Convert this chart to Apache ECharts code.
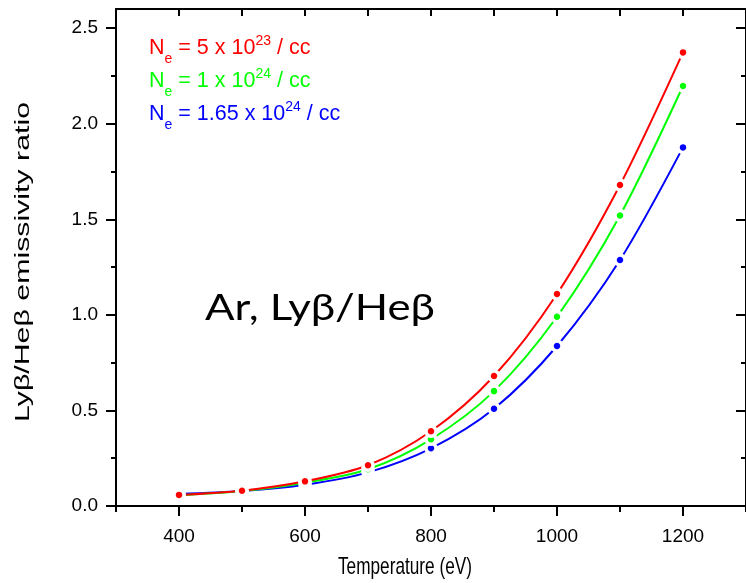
<!DOCTYPE html>
<html><head><meta charset="utf-8">
<script src="https://cdn.jsdelivr.net/npm/echarts@6/dist/echarts.min.js"></script>
<style>html,body{margin:0;padding:0;background:#fff}#c{width:746px;height:583px}</style>
</head><body><div id="c"></div>
<script>
const temperatures = [400, 500, 600, 700, 800, 900, 1000, 1100, 1200];
const ratioNe5e23 = [0.058, 0.080, 0.129, 0.213, 0.391, 0.680, 1.109, 1.679, 2.373];
const ratioNe1e24 = [0.056, 0.078, 0.122, 0.192, 0.349, 0.601, 0.990, 1.520, 2.197];
const ratioNe165e24 = [0.063, 0.078, 0.111, 0.176, 0.302, 0.509, 0.837, 1.287, 1.876];
const xMajorTicks = [400, 600, 800, 1000, 1200];
const xMinorTicks = [300, 500, 700, 900, 1100, 1300];
const xTopTicks = [300, 400, 500, 600, 700, 800, 900, 1000, 1100, 1200, 1300];
const yMajorTicks = [0, 0.5, 1.0, 1.5, 2.0, 2.5];
const yMinorTicks = [0.25, 0.75, 1.25, 1.75, 2.25];
const legendLines = [
  {text: '{n|N}{s|e}{n| = 5 x 10}{p|23}{n| / cc}', color: '#ff0000'},
  {text: '{n|N}{s|e}{n| = 1 x 10}{p|24}{n| / cc}', color: '#00ff00'},
  {text: '{n|N}{s|e}{n| = 1.65 x 10}{p|24}{n| / cc}', color: '#0000ff'}
];
const annotation = 'Ar, Lyβ/Heβ';
const xTitle = 'Temperature (eV)';
const yTitle = 'Lyβ/Heβ emissivity ratio';

const FONT = 'Liberation Sans, Arial, sans-serif';
const black = '#000';
const lineSt = {color: black, width: 2};

const ctx = document.createElement('canvas').getContext('2d');
function textWidth(t, size, family) {
  ctx.font = size + 'px ' + family;
  return ctx.measureText(t).width;
}
const TICKFONT = FONT;
const TICKSIZE = 19;

function xAx(pos, ticks, len, inside, extra) {
  return Object.assign({
    type: 'value', position: pos, min: 300, max: 1300,
    axisLine: {show: true, onZero: false, lineStyle: lineSt},
    axisTick: {show: true, inside: inside, length: len, customValues: ticks, lineStyle: lineSt},
    axisLabel: {show: false},
    splitLine: {show: false}, minorTick: {show: false}
  }, extra || {});
}
function yAx(pos, ticks, len, inside, extra) {
  return Object.assign({
    type: 'value', position: pos, min: 0, max: 2.6,
    axisLine: {show: true, onZero: false, lineStyle: lineSt},
    axisTick: {show: true, inside: inside, length: len, customValues: ticks, lineStyle: lineSt},
    axisLabel: {show: false},
    splitLine: {show: false}, minorTick: {show: false}
  }, extra || {});
}

function mkSeries(name, vals, color) {
  return {
    type: 'line', name: name, xAxisIndex: 0, yAxisIndex: 0,
    data: temperatures.map((t, i) => [t, vals[i]]),
    smooth: 0.3,
    symbol: 'circle', symbolSize: 10, showSymbol: true,
    lineStyle: {color: color, width: 2},
    itemStyle: {color: color, borderColor: '#fff', borderWidth: 3.5},
    emphasis: {disabled: true},
    animation: false
  };
}

const graphics = legendLines.map((l, i) => ({
  type: 'text', left: 149, top: 34 + i * 33,
  style: {
    text: l.text,
    rich: {
      n: {fontSize: 21.5, fontFamily: FONT, fill: l.color},
      s: {fontSize: 14, fontFamily: FONT, fill: l.color, padding: [22, 0, 0, 0]},
      p: {fontSize: 14, fontFamily: FONT, fill: l.color, padding: [0, 0, 14, 0]}
    }
  }
}));

const ANNFONT = 'Lato, "Open Sans", sans-serif';
const annW = textWidth(annotation, 37, ANNFONT);
graphics.push({
  type: 'text', x: 205, y: 290, scaleX: 230 / annW,
  style: {text: annotation, fontSize: 37, fontFamily: ANNFONT, fill: black, align: 'left', verticalAlign: 'top'}
});
const xtW = textWidth(xTitle, 17, FONT);
graphics.push({
  type: 'text', x: 405, y: 567, scaleX: 134 / xtW, scaleY: 1.4,
  style: {text: xTitle, fontSize: 17, fontFamily: FONT, fill: black, align: 'center', verticalAlign: 'middle'}
});
const ytW = textWidth(yTitle, 20, FONT);
graphics.push({
  type: 'text', x: 23, y: 262, rotation: Math.PI / 2, scaleX: 320 / ytW,
  style: {text: yTitle, fontSize: 20, fontFamily: FONT, fill: black, align: 'center', verticalAlign: 'middle'}
});

const chart = echarts.init(document.getElementById('c'), null, {renderer: 'canvas'});
chart.setOption({
  backgroundColor: '#fff',
  animation: false,
  grid: {left: 116, right: -4, top: 9, bottom: 77, containLabel: false},
  xAxis: [
    xAx('bottom', xMajorTicks, 10, false, {
      axisLabel: {show: true, customValues: xMajorTicks, margin: 21, fontSize: TICKSIZE, color: black,
        fontFamily: TICKFONT, formatter: v => String(v)}
    }),
    xAx('bottom', xMinorTicks, 6, false, {axisLine: {show: false, onZero: false}}),
    xAx('top', xTopTicks, 7, true)
  ],
  yAxis: [
    yAx('left', yMajorTicks, 10, false, {
      axisLabel: {show: true, customValues: yMajorTicks, margin: 18, fontSize: TICKSIZE, color: black,
        fontFamily: TICKFONT, formatter: v => v.toFixed(1)}
    }),
    yAx('left', yMinorTicks, 5, false, {axisLine: {show: false, onZero: false}}),
    yAx('right', yMajorTicks, 10, true),
    yAx('right', yMinorTicks, 5, true, {axisLine: {show: false, onZero: false}})
  ],
  series: [
    mkSeries('1.65e24', ratioNe165e24, '#0000ff'),
    mkSeries('1e24', ratioNe1e24, '#00ff00'),
    mkSeries('5e23', ratioNe5e23, '#ff0000')
  ],
  graphic: graphics
});
</script></body></html>
